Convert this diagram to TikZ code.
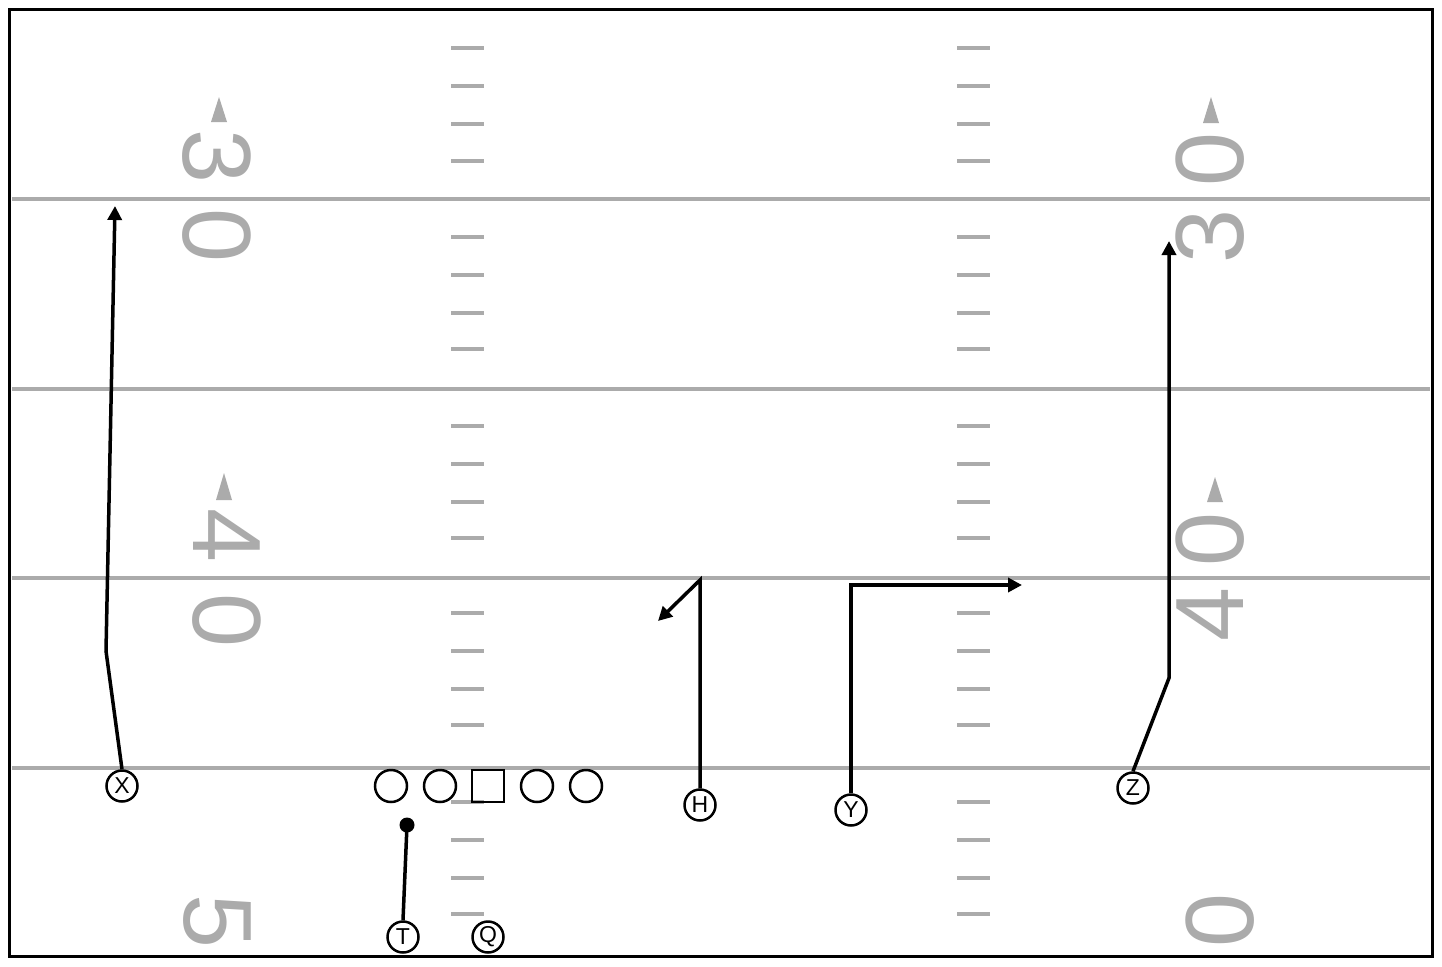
\documentclass[tikz,border=0pt]{standalone}
\usepackage{fontspec}
\setmainfont{Liberation Sans}
\usetikzlibrary{arrows.meta}
\definecolor{fieldgray}{HTML}{ABABAB}
\tikzset{
  yardline/.style={draw=fieldgray, line width=3.5pt},
  hashmark/.style={draw=fieldgray, line width=4pt},
  num/.style={text=fieldgray, inner sep=0pt, font=\fontsize{97}{97}\selectfont},
  pointer/.style={fill=fieldgray, draw=none},
  player/.style={circle, draw=black, line width=2.5pt, minimum size=31pt, inner sep=0pt, font=\fontsize{23}{23}\selectfont},
  lineman/.style={circle, draw=black, line width=2.5pt, minimum size=32pt, inner sep=0pt},
  center/.style={rectangle, draw=black, line width=2.5pt, minimum size=32pt, inner sep=0pt},
  route/.style={draw=black, line width=3.5pt, line join=miter},
  routearrow/.style={route, -{Triangle[length=14pt,width=14pt]}},
}
\begin{document}
\begin{tikzpicture}[x=1pt,y=-1pt]
\useasboundingbox (0,0) rectangle (1442,966);
\fill[white] (0,0) rectangle (1442,966);
% yard lines
\foreach \yy in {199,389,578,768} {\draw[yardline] (12,\yy) -- (1430,\yy);}
% hash marks
\foreach \yy in {48,86,124,161,237,275,313,349,426,464,502,538,613,651,689,725,802,840,878,914} {
  \draw[hashmark] (451,\yy) -- (484,\yy);
  \draw[hashmark] (957,\yy) -- (990,\yy);
}
% numbers left
\node[num, rotate=-90] (l3) at (217,156) {3};
\node[num, rotate=-90] (l30) at (217,235) {0};
\fill[pointer] (219,97) -- (227,122) -- (211,122) -- cycle;
\node[num, rotate=-90] (l4) at (227,535) {4};
\node[num, rotate=-90] (l40) at (227,620) {0};
\fill[pointer] (224,473) -- (232,500) -- (216,500) -- cycle;
\node[num, rotate=-90] (l5) at (217,921) {5};
% numbers right
\node[num, rotate=90] (r30) at (1210,160) {0};
\node[num, rotate=90] (r3) at (1210,237) {3};
\fill[pointer] (1211,97) -- (1219,123) -- (1203,123) -- cycle;
\node[num, rotate=90] (r40) at (1210,540) {0};
\node[num, rotate=90] (r4) at (1210,615) {4};
\fill[pointer] (1215,477) -- (1223,502) -- (1207,502) -- cycle;
\node[num, rotate=90] (r0) at (1220,921) {0};
% players
\node[player] (X) at (122,786) {X};
\node[lineman] (lt) at (391,786) {};
\node[lineman] (lg) at (440,786) {};
\node[center] (c) at (488,786) {};
\node[lineman] (rg) at (537,786) {};
\node[lineman] (rt) at (586,786) {};
\node[player] (H) at (700,805) {H};
\node[player] (Y) at (851,810) {Y};
\node[player] (Z) at (1133,788) {Z};
\node[player] (T) at (403,937) {T};
\node[player] (Q) at (488,937) {Q};
% route points
\coordinate (xb) at (106,651);
\coordinate (xe) at (115,206);
\coordinate (td) at (407,825);
\coordinate (hb) at (700,580);
\coordinate (he) at (658,621);
\coordinate (yb) at (851,585);
\coordinate (ye) at (1022,585);
\coordinate (zb) at (1169,678);
\coordinate (ze) at (1169,241);
% routes
\draw[routearrow] (X.north) -- (xb) -- (xe);
\draw[route] (T.north) -- (td);
\fill (td) circle (7.5pt);
\draw[routearrow] (H.north) -- (hb) -- (he);
\draw[routearrow] (Y.north) -- (yb) -- (ye);
\draw[routearrow] (Z.north) -- (zb) -- (ze);
% frame
\draw[line width=3.5pt] (9.5,9.5) rectangle (1432.5,956.5);
\end{tikzpicture}
\end{document}
